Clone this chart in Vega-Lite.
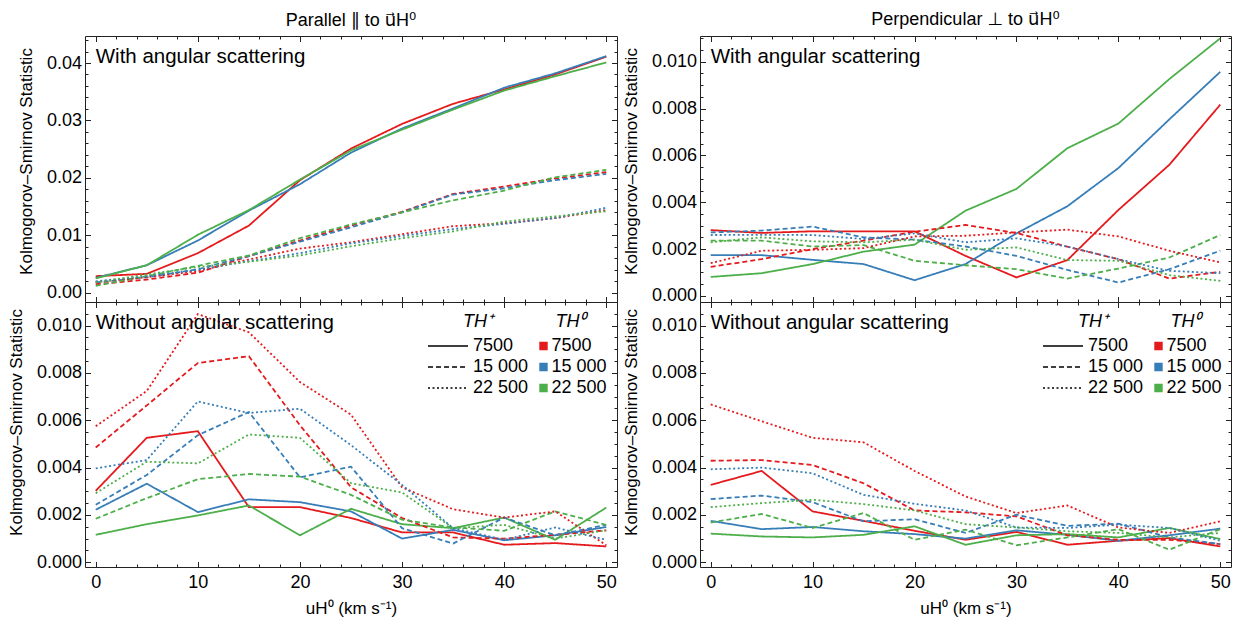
{
"$schema":"https://vega.github.io/schema/vega-lite/v6.json",
"padding":{"left":6,"top":10,"right":5,"bottom":5},
"background":"white",
"config":{
 "font":"Liberation Sans",
 "view":{"stroke":"#222","strokeWidth":1},
 "axis":{"domain":false,"grid":false,"minExtent":0,"tickColor":"#222","tickWidth":1,"labelFont":"Liberation Sans","labelFontSize":18,"labelColor":"black","titleFont":"Liberation Sans","titleFontSize":17,"titleFontWeight":"normal","titleColor":"black","labelFlush":false,"labelOverlap":false},
 "legend":{"labelFont":"Liberation Sans","labelFontSize":18,"labelColor":"black","titleFont":"Liberation Sans","titleFontSize":18,"titleFontWeight":"normal","titleColor":"black"}
},
"datasets":{
"TL":[
{"a":7500,"b":7500,"u":0,"k":0.0029},{"a":7500,"b":7500,"u":5,"k":0.0033},{"a":7500,"b":7500,"u":10,"k":0.0069},{"a":7500,"b":7500,"u":15,"k":0.0117},{"a":7500,"b":7500,"u":20,"k":0.0196},{"a":7500,"b":7500,"u":25,"k":0.0251},{"a":7500,"b":7500,"u":30,"k":0.0294},{"a":7500,"b":7500,"u":35,"k":0.0329},{"a":7500,"b":7500,"u":40,"k":0.0354},{"a":7500,"b":7500,"u":45,"k":0.0380},{"a":7500,"b":7500,"u":50,"k":0.0411},
{"a":7500,"b":15000,"u":0,"k":0.0026},{"a":7500,"b":15000,"u":5,"k":0.0048},{"a":7500,"b":15000,"u":10,"k":0.0091},{"a":7500,"b":15000,"u":15,"k":0.0143},{"a":7500,"b":15000,"u":20,"k":0.0189},{"a":7500,"b":15000,"u":25,"k":0.0244},{"a":7500,"b":15000,"u":30,"k":0.0286},{"a":7500,"b":15000,"u":35,"k":0.0321},{"a":7500,"b":15000,"u":40,"k":0.0357},{"a":7500,"b":15000,"u":45,"k":0.0382},{"a":7500,"b":15000,"u":50,"k":0.0412},
{"a":7500,"b":22500,"u":0,"k":0.0025},{"a":7500,"b":22500,"u":5,"k":0.0048},{"a":7500,"b":22500,"u":10,"k":0.0101},{"a":7500,"b":22500,"u":15,"k":0.0144},{"a":7500,"b":22500,"u":20,"k":0.0197},{"a":7500,"b":22500,"u":25,"k":0.0248},{"a":7500,"b":22500,"u":30,"k":0.0284},{"a":7500,"b":22500,"u":35,"k":0.0319},{"a":7500,"b":22500,"u":40,"k":0.0352},{"a":7500,"b":22500,"u":45,"k":0.0377},{"a":7500,"b":22500,"u":50,"k":0.0401},
{"a":15000,"b":7500,"u":0,"k":0.0015},{"a":15000,"b":7500,"u":5,"k":0.0023},{"a":15000,"b":7500,"u":10,"k":0.0035},{"a":15000,"b":7500,"u":15,"k":0.0064},{"a":15000,"b":7500,"u":20,"k":0.0091},{"a":15000,"b":7500,"u":25,"k":0.0117},{"a":15000,"b":7500,"u":30,"k":0.0141},{"a":15000,"b":7500,"u":35,"k":0.0172},{"a":15000,"b":7500,"u":40,"k":0.0185},{"a":15000,"b":7500,"u":45,"k":0.0199},{"a":15000,"b":7500,"u":50,"k":0.0210},
{"a":15000,"b":15000,"u":0,"k":0.0018},{"a":15000,"b":15000,"u":5,"k":0.0027},{"a":15000,"b":15000,"u":10,"k":0.0041},{"a":15000,"b":15000,"u":15,"k":0.0064},{"a":15000,"b":15000,"u":20,"k":0.0089},{"a":15000,"b":15000,"u":25,"k":0.0114},{"a":15000,"b":15000,"u":30,"k":0.0140},{"a":15000,"b":15000,"u":35,"k":0.0171},{"a":15000,"b":15000,"u":40,"k":0.0182},{"a":15000,"b":15000,"u":45,"k":0.0196},{"a":15000,"b":15000,"u":50,"k":0.0207},
{"a":15000,"b":22500,"u":0,"k":0.0012},{"a":15000,"b":22500,"u":5,"k":0.0029},{"a":15000,"b":22500,"u":10,"k":0.0047},{"a":15000,"b":22500,"u":15,"k":0.0065},{"a":15000,"b":22500,"u":20,"k":0.0095},{"a":15000,"b":22500,"u":25,"k":0.0119},{"a":15000,"b":22500,"u":30,"k":0.0140},{"a":15000,"b":22500,"u":35,"k":0.0161},{"a":15000,"b":22500,"u":40,"k":0.0178},{"a":15000,"b":22500,"u":45,"k":0.0201},{"a":15000,"b":22500,"u":50,"k":0.0214},
{"a":22500,"b":7500,"u":0,"k":0.0019},{"a":22500,"b":7500,"u":5,"k":0.0027},{"a":22500,"b":7500,"u":10,"k":0.0038},{"a":22500,"b":7500,"u":15,"k":0.0058},{"a":22500,"b":7500,"u":20,"k":0.0077},{"a":22500,"b":7500,"u":25,"k":0.0088},{"a":22500,"b":7500,"u":30,"k":0.0102},{"a":22500,"b":7500,"u":35,"k":0.0116},{"a":22500,"b":7500,"u":40,"k":0.0121},{"a":22500,"b":7500,"u":45,"k":0.0130},{"a":22500,"b":7500,"u":50,"k":0.0144},
{"a":22500,"b":15000,"u":0,"k":0.0020},{"a":22500,"b":15000,"u":5,"k":0.0029},{"a":22500,"b":15000,"u":10,"k":0.0040},{"a":22500,"b":15000,"u":15,"k":0.0055},{"a":22500,"b":15000,"u":20,"k":0.0069},{"a":22500,"b":15000,"u":25,"k":0.0086},{"a":22500,"b":15000,"u":30,"k":0.0099},{"a":22500,"b":15000,"u":35,"k":0.0111},{"a":22500,"b":15000,"u":40,"k":0.0120},{"a":22500,"b":15000,"u":45,"k":0.0130},{"a":22500,"b":15000,"u":50,"k":0.0148},
{"a":22500,"b":22500,"u":0,"k":0.0018},{"a":22500,"b":22500,"u":5,"k":0.0032},{"a":22500,"b":22500,"u":10,"k":0.0045},{"a":22500,"b":22500,"u":15,"k":0.0054},{"a":22500,"b":22500,"u":20,"k":0.0065},{"a":22500,"b":22500,"u":25,"k":0.0081},{"a":22500,"b":22500,"u":30,"k":0.0095},{"a":22500,"b":22500,"u":35,"k":0.0107},{"a":22500,"b":22500,"u":40,"k":0.0124},{"a":22500,"b":22500,"u":45,"k":0.0133},{"a":22500,"b":22500,"u":50,"k":0.0142}
],
"BL":[
{"a":7500,"b":7500,"u":0,"k":0.00302},{"a":7500,"b":7500,"u":5,"k":0.00526},{"a":7500,"b":7500,"u":10,"k":0.00554},{"a":7500,"b":7500,"u":15,"k":0.00233},{"a":7500,"b":7500,"u":20,"k":0.00233},{"a":7500,"b":7500,"u":25,"k":0.00187},{"a":7500,"b":7500,"u":30,"k":0.00126},{"a":7500,"b":7500,"u":35,"k":0.00126},{"a":7500,"b":7500,"u":40,"k":0.00074},{"a":7500,"b":7500,"u":45,"k":0.00081},{"a":7500,"b":7500,"u":50,"k":0.00067},
{"a":7500,"b":15000,"u":0,"k":0.00222},{"a":7500,"b":15000,"u":5,"k":0.00332},{"a":7500,"b":15000,"u":10,"k":0.00212},{"a":7500,"b":15000,"u":15,"k":0.00266},{"a":7500,"b":15000,"u":20,"k":0.00254},{"a":7500,"b":15000,"u":25,"k":0.00215},{"a":7500,"b":15000,"u":30,"k":0.00100},{"a":7500,"b":15000,"u":35,"k":0.00137},{"a":7500,"b":15000,"u":40,"k":0.00093},{"a":7500,"b":15000,"u":45,"k":0.00114},{"a":7500,"b":15000,"u":50,"k":0.00149},
{"a":7500,"b":22500,"u":0,"k":0.00116},{"a":7500,"b":22500,"u":5,"k":0.00161},{"a":7500,"b":22500,"u":10,"k":0.00198},{"a":7500,"b":22500,"u":15,"k":0.00240},{"a":7500,"b":22500,"u":20,"k":0.00114},{"a":7500,"b":22500,"u":25,"k":0.00226},{"a":7500,"b":22500,"u":30,"k":0.00161},{"a":7500,"b":22500,"u":35,"k":0.00144},{"a":7500,"b":22500,"u":40,"k":0.00189},{"a":7500,"b":22500,"u":45,"k":0.00095},{"a":7500,"b":22500,"u":50,"k":0.00231},
{"a":15000,"b":7500,"u":0,"k":0.00485},{"a":15000,"b":7500,"u":5,"k":0.00663},{"a":15000,"b":7500,"u":10,"k":0.00842},{"a":15000,"b":7500,"u":15,"k":0.00871},{"a":15000,"b":7500,"u":20,"k":0.00579},{"a":15000,"b":7500,"u":25,"k":0.00317},{"a":15000,"b":7500,"u":30,"k":0.00187},{"a":15000,"b":7500,"u":35,"k":0.00105},{"a":15000,"b":7500,"u":40,"k":0.00100},{"a":15000,"b":7500,"u":45,"k":0.00116},{"a":15000,"b":7500,"u":50,"k":0.00135},
{"a":15000,"b":15000,"u":0,"k":0.00243},{"a":15000,"b":15000,"u":5,"k":0.00369},{"a":15000,"b":15000,"u":10,"k":0.00537},{"a":15000,"b":15000,"u":15,"k":0.00635},{"a":15000,"b":15000,"u":20,"k":0.00359},{"a":15000,"b":15000,"u":25,"k":0.00404},{"a":15000,"b":15000,"u":30,"k":0.00144},{"a":15000,"b":15000,"u":35,"k":0.00079},{"a":15000,"b":15000,"u":40,"k":0.00189},{"a":15000,"b":15000,"u":45,"k":0.00114},{"a":15000,"b":15000,"u":50,"k":0.00158},
{"a":15000,"b":22500,"u":0,"k":0.00184},{"a":15000,"b":22500,"u":5,"k":0.00271},{"a":15000,"b":22500,"u":10,"k":0.00351},{"a":15000,"b":22500,"u":15,"k":0.00373},{"a":15000,"b":22500,"u":20,"k":0.00362},{"a":15000,"b":22500,"u":25,"k":0.00285},{"a":15000,"b":22500,"u":30,"k":0.00180},{"a":15000,"b":22500,"u":35,"k":0.00147},{"a":15000,"b":22500,"u":40,"k":0.00133},{"a":15000,"b":22500,"u":45,"k":0.00215},{"a":15000,"b":22500,"u":50,"k":0.00158},
{"a":22500,"b":7500,"u":0,"k":0.00575},{"a":22500,"b":7500,"u":5,"k":0.00724},{"a":22500,"b":7500,"u":10,"k":0.01049},{"a":22500,"b":7500,"u":15,"k":0.00972},{"a":22500,"b":7500,"u":20,"k":0.00762},{"a":22500,"b":7500,"u":25,"k":0.00624},{"a":22500,"b":7500,"u":30,"k":0.00317},{"a":22500,"b":7500,"u":35,"k":0.00224},{"a":22500,"b":7500,"u":40,"k":0.00189},{"a":22500,"b":7500,"u":45,"k":0.00215},{"a":22500,"b":7500,"u":50,"k":0.00072},
{"a":22500,"b":15000,"u":0,"k":0.00397},{"a":22500,"b":15000,"u":5,"k":0.00432},{"a":22500,"b":15000,"u":10,"k":0.00680},{"a":22500,"b":15000,"u":15,"k":0.00631},{"a":22500,"b":15000,"u":20,"k":0.00649},{"a":22500,"b":15000,"u":25,"k":0.00495},{"a":22500,"b":15000,"u":30,"k":0.00327},{"a":22500,"b":15000,"u":35,"k":0.00144},{"a":22500,"b":15000,"u":40,"k":0.00095},{"a":22500,"b":15000,"u":45,"k":0.00147},{"a":22500,"b":15000,"u":50,"k":0.00095},
{"a":22500,"b":22500,"u":0,"k":0.00292},{"a":22500,"b":22500,"u":5,"k":0.00425},{"a":22500,"b":22500,"u":10,"k":0.00418},{"a":22500,"b":22500,"u":15,"k":0.00540},{"a":22500,"b":22500,"u":20,"k":0.00526},{"a":22500,"b":22500,"u":25,"k":0.00334},{"a":22500,"b":22500,"u":30,"k":0.00295},{"a":22500,"b":22500,"u":35,"k":0.00144},{"a":22500,"b":22500,"u":40,"k":0.00158},{"a":22500,"b":22500,"u":45,"k":0.00100},{"a":22500,"b":22500,"u":50,"k":0.00135}
],
"TR":[
{"a":7500,"b":7500,"u":0,"k":0.00281},{"a":7500,"b":7500,"u":5,"k":0.00269},{"a":7500,"b":7500,"u":10,"k":0.00276},{"a":7500,"b":7500,"u":15,"k":0.00276},{"a":7500,"b":7500,"u":20,"k":0.00276},{"a":7500,"b":7500,"u":25,"k":0.00171},{"a":7500,"b":7500,"u":30,"k":0.00079},{"a":7500,"b":7500,"u":35,"k":0.00153},{"a":7500,"b":7500,"u":40,"k":0.00367},{"a":7500,"b":7500,"u":45,"k":0.00560},{"a":7500,"b":7500,"u":50,"k":0.00817},
{"a":7500,"b":15000,"u":0,"k":0.00174},{"a":7500,"b":15000,"u":5,"k":0.00174},{"a":7500,"b":15000,"u":10,"k":0.00154},{"a":7500,"b":15000,"u":15,"k":0.00136},{"a":7500,"b":15000,"u":20,"k":0.00067},{"a":7500,"b":15000,"u":25,"k":0.00136},{"a":7500,"b":15000,"u":30,"k":0.00267},{"a":7500,"b":15000,"u":35,"k":0.00383},{"a":7500,"b":15000,"u":40,"k":0.00546},{"a":7500,"b":15000,"u":45,"k":0.00754},{"a":7500,"b":15000,"u":50,"k":0.00957},
{"a":7500,"b":22500,"u":0,"k":0.00081},{"a":7500,"b":22500,"u":5,"k":0.00097},{"a":7500,"b":22500,"u":10,"k":0.00136},{"a":7500,"b":22500,"u":15,"k":0.00189},{"a":7500,"b":22500,"u":20,"k":0.00219},{"a":7500,"b":22500,"u":25,"k":0.00364},{"a":7500,"b":22500,"u":30,"k":0.00457},{"a":7500,"b":22500,"u":35,"k":0.00631},{"a":7500,"b":22500,"u":40,"k":0.00736},{"a":7500,"b":22500,"u":45,"k":0.00926},{"a":7500,"b":22500,"u":50,"k":0.01100},
{"a":15000,"b":7500,"u":0,"k":0.00124},{"a":15000,"b":7500,"u":5,"k":0.00157},{"a":15000,"b":7500,"u":10,"k":0.00200},{"a":15000,"b":7500,"u":15,"k":0.00236},{"a":15000,"b":7500,"u":20,"k":0.00274},{"a":15000,"b":7500,"u":25,"k":0.00303},{"a":15000,"b":7500,"u":30,"k":0.00269},{"a":15000,"b":7500,"u":35,"k":0.00210},{"a":15000,"b":7500,"u":40,"k":0.00157},{"a":15000,"b":7500,"u":45,"k":0.00074},{"a":15000,"b":7500,"u":50,"k":0.00103},
{"a":15000,"b":15000,"u":0,"k":0.00271},{"a":15000,"b":15000,"u":5,"k":0.00279},{"a":15000,"b":15000,"u":10,"k":0.00296},{"a":15000,"b":15000,"u":15,"k":0.00250},{"a":15000,"b":15000,"u":20,"k":0.00240},{"a":15000,"b":15000,"u":25,"k":0.00211},{"a":15000,"b":15000,"u":30,"k":0.00171},{"a":15000,"b":15000,"u":35,"k":0.00111},{"a":15000,"b":15000,"u":40,"k":0.00057},{"a":15000,"b":15000,"u":45,"k":0.00114},{"a":15000,"b":15000,"u":50,"k":0.00193},
{"a":15000,"b":22500,"u":0,"k":0.00236},{"a":15000,"b":22500,"u":5,"k":0.00236},{"a":15000,"b":22500,"u":10,"k":0.00211},{"a":15000,"b":22500,"u":15,"k":0.00217},{"a":15000,"b":22500,"u":20,"k":0.00150},{"a":15000,"b":22500,"u":25,"k":0.00131},{"a":15000,"b":22500,"u":30,"k":0.00114},{"a":15000,"b":22500,"u":35,"k":0.00074},{"a":15000,"b":22500,"u":40,"k":0.00117},{"a":15000,"b":22500,"u":45,"k":0.00164},{"a":15000,"b":22500,"u":50,"k":0.00260},
{"a":22500,"b":7500,"u":0,"k":0.00140},{"a":22500,"b":7500,"u":5,"k":0.00193},{"a":22500,"b":7500,"u":10,"k":0.00197},{"a":22500,"b":7500,"u":15,"k":0.00204},{"a":22500,"b":7500,"u":20,"k":0.00254},{"a":22500,"b":7500,"u":25,"k":0.00257},{"a":22500,"b":7500,"u":30,"k":0.00271},{"a":22500,"b":7500,"u":35,"k":0.00283},{"a":22500,"b":7500,"u":40,"k":0.00254},{"a":22500,"b":7500,"u":45,"k":0.00193},{"a":22500,"b":7500,"u":50,"k":0.00143},
{"a":22500,"b":15000,"u":0,"k":0.00260},{"a":22500,"b":15000,"u":5,"k":0.00261},{"a":22500,"b":15000,"u":10,"k":0.00260},{"a":22500,"b":15000,"u":15,"k":0.00243},{"a":22500,"b":15000,"u":20,"k":0.00267},{"a":22500,"b":15000,"u":25,"k":0.00229},{"a":22500,"b":15000,"u":30,"k":0.00246},{"a":22500,"b":15000,"u":35,"k":0.00211},{"a":22500,"b":15000,"u":40,"k":0.00157},{"a":22500,"b":15000,"u":45,"k":0.00107},{"a":22500,"b":15000,"u":50,"k":0.00097},
{"a":22500,"b":22500,"u":0,"k":0.00229},{"a":22500,"b":22500,"u":5,"k":0.00250},{"a":22500,"b":22500,"u":10,"k":0.00233},{"a":22500,"b":22500,"u":15,"k":0.00229},{"a":22500,"b":22500,"u":20,"k":0.00240},{"a":22500,"b":22500,"u":25,"k":0.00197},{"a":22500,"b":22500,"u":30,"k":0.00207},{"a":22500,"b":22500,"u":35,"k":0.00153},{"a":22500,"b":22500,"u":40,"k":0.00150},{"a":22500,"b":22500,"u":45,"k":0.00089},{"a":22500,"b":22500,"u":50,"k":0.00064}
],
"BR":[
{"a":7500,"b":7500,"u":0,"k":0.00327},{"a":7500,"b":7500,"u":5,"k":0.00386},{"a":7500,"b":7500,"u":10,"k":0.00215},{"a":7500,"b":7500,"u":15,"k":0.00175},{"a":7500,"b":7500,"u":20,"k":0.00133},{"a":7500,"b":7500,"u":25,"k":0.00095},{"a":7500,"b":7500,"u":30,"k":0.00128},{"a":7500,"b":7500,"u":35,"k":0.00074},{"a":7500,"b":7500,"u":40,"k":0.00091},{"a":7500,"b":7500,"u":45,"k":0.00102},{"a":7500,"b":7500,"u":50,"k":0.00067},
{"a":7500,"b":15000,"u":0,"k":0.00175},{"a":7500,"b":15000,"u":5,"k":0.00140},{"a":7500,"b":15000,"u":10,"k":0.00149},{"a":7500,"b":15000,"u":15,"k":0.00131},{"a":7500,"b":15000,"u":20,"k":0.00119},{"a":7500,"b":15000,"u":25,"k":0.00100},{"a":7500,"b":15000,"u":30,"k":0.00135},{"a":7500,"b":15000,"u":35,"k":0.00116},{"a":7500,"b":15000,"u":40,"k":0.00091},{"a":7500,"b":15000,"u":45,"k":0.00114},{"a":7500,"b":15000,"u":50,"k":0.00142},
{"a":7500,"b":22500,"u":0,"k":0.00121},{"a":7500,"b":22500,"u":5,"k":0.00109},{"a":7500,"b":22500,"u":10,"k":0.00105},{"a":7500,"b":22500,"u":15,"k":0.00116},{"a":7500,"b":22500,"u":20,"k":0.00152},{"a":7500,"b":22500,"u":25,"k":0.00074},{"a":7500,"b":22500,"u":30,"k":0.00114},{"a":7500,"b":22500,"u":35,"k":0.00119},{"a":7500,"b":22500,"u":40,"k":0.00105},{"a":7500,"b":22500,"u":45,"k":0.00145},{"a":7500,"b":22500,"u":50,"k":0.00098},
{"a":15000,"b":7500,"u":0,"k":0.00429},{"a":15000,"b":7500,"u":5,"k":0.00432},{"a":15000,"b":7500,"u":10,"k":0.00411},{"a":15000,"b":7500,"u":15,"k":0.00334},{"a":15000,"b":7500,"u":20,"k":0.00219},{"a":15000,"b":7500,"u":25,"k":0.00211},{"a":15000,"b":7500,"u":30,"k":0.00194},{"a":15000,"b":7500,"u":35,"k":0.00114},{"a":15000,"b":7500,"u":40,"k":0.00095},{"a":15000,"b":7500,"u":45,"k":0.00095},{"a":15000,"b":7500,"u":50,"k":0.00077},
{"a":15000,"b":15000,"u":0,"k":0.00267},{"a":15000,"b":15000,"u":5,"k":0.00282},{"a":15000,"b":15000,"u":10,"k":0.00254},{"a":15000,"b":15000,"u":15,"k":0.00173},{"a":15000,"b":15000,"u":20,"k":0.00182},{"a":15000,"b":15000,"u":25,"k":0.00124},{"a":15000,"b":15000,"u":30,"k":0.00201},{"a":15000,"b":15000,"u":35,"k":0.00154},{"a":15000,"b":15000,"u":40,"k":0.00163},{"a":15000,"b":15000,"u":45,"k":0.00105},{"a":15000,"b":15000,"u":50,"k":0.00077},
{"a":15000,"b":22500,"u":0,"k":0.00168},{"a":15000,"b":22500,"u":5,"k":0.00204},{"a":15000,"b":22500,"u":10,"k":0.00145},{"a":15000,"b":22500,"u":15,"k":0.00208},{"a":15000,"b":22500,"u":20,"k":0.00095},{"a":15000,"b":22500,"u":25,"k":0.00138},{"a":15000,"b":22500,"u":30,"k":0.00072},{"a":15000,"b":22500,"u":35,"k":0.00105},{"a":15000,"b":22500,"u":40,"k":0.00140},{"a":15000,"b":22500,"u":45,"k":0.00053},{"a":15000,"b":22500,"u":50,"k":0.00140},
{"a":22500,"b":7500,"u":0,"k":0.00667},{"a":22500,"b":7500,"u":5,"k":0.00596},{"a":22500,"b":7500,"u":10,"k":0.00526},{"a":22500,"b":7500,"u":15,"k":0.00507},{"a":22500,"b":7500,"u":20,"k":0.00386},{"a":22500,"b":7500,"u":25,"k":0.00278},{"a":22500,"b":7500,"u":30,"k":0.00208},{"a":22500,"b":7500,"u":35,"k":0.00240},{"a":22500,"b":7500,"u":40,"k":0.00147},{"a":22500,"b":7500,"u":45,"k":0.00124},{"a":22500,"b":7500,"u":50,"k":0.00173},
{"a":22500,"b":15000,"u":0,"k":0.00393},{"a":22500,"b":15000,"u":5,"k":0.00400},{"a":22500,"b":15000,"u":10,"k":0.00376},{"a":22500,"b":15000,"u":15,"k":0.00285},{"a":22500,"b":15000,"u":20,"k":0.00247},{"a":22500,"b":15000,"u":25,"k":0.00219},{"a":22500,"b":15000,"u":30,"k":0.00147},{"a":22500,"b":15000,"u":35,"k":0.00145},{"a":22500,"b":15000,"u":40,"k":0.00159},{"a":22500,"b":15000,"u":45,"k":0.00145},{"a":22500,"b":15000,"u":50,"k":0.00091},
{"a":22500,"b":22500,"u":0,"k":0.00233},{"a":22500,"b":22500,"u":5,"k":0.00250},{"a":22500,"b":22500,"u":10,"k":0.00264},{"a":22500,"b":22500,"u":15,"k":0.00246},{"a":22500,"b":22500,"u":20,"k":0.00219},{"a":22500,"b":22500,"u":25,"k":0.00161},{"a":22500,"b":22500,"u":30,"k":0.00147},{"a":22500,"b":22500,"u":35,"k":0.00131},{"a":22500,"b":22500,"u":40,"k":0.00124},{"a":22500,"b":22500,"u":45,"k":0.00105},{"a":22500,"b":22500,"u":50,"k":0.00124}
]
},
"resolve":{"legend":{"color":"independent","strokeDash":"independent"}},
"columns":2,
"spacing":{"row":0,"column":83},
"bounds":"flush",
"concat":[
  {
   "data":{"name":"TL"},"width":532,"height":266,
   "title":{"text":"Parallel ∥ to u⃗H⁰","frame":"group","anchor":"middle","offset":-8,"baseline":"alphabetic","fontSize":18,"fontWeight":"normal","font":"Liberation Sans, DejaVu Sans","color":"black"},
   "layer":[
    {"mark":{"type":"line","strokeWidth":1.8,"color":"black"},
     "encoding":{
      "x":{"field":"u","type":"quantitative","scale":{"domain":[-1.05,51.05],"nice":false,"zero":false},"axis":{"orient":"bottom","values":[0,10,20,30,40,50],"tickSize":-5.5,"labels":false,"title":null}},
      "y":{"field":"k","type":"quantitative","scale":{"domain":[-0.0016,0.0447],"nice":false,"zero":false},"axis":{"orient":"left","values":[0,0.01,0.02,0.03,0.04],"format":".2f","tickSize":-5.5,"labelPadding":9,"title":"Kolmogorov–Smirnov Statistic","titlePadding":11,"titleY":125}},
      "color":{"field":"b","type":"nominal","scale":{"range":["#e41a1c","#377eb8","#4daf4a"]},"legend":null},
      "strokeDash":{"field":"a","type":"nominal","scale":{"domain":[7500,15000,22500],"range":[[1,0],[5,3],[2,2.5]]},"legend":null}
     }},
    {"mark":{"type":"point","opacity":0},
     "encoding":{
      "x":{"field":"u","type":"quantitative","scale":{"domain":[-1.05,51.05],"nice":false,"zero":false},"axis":{"orient":"bottom","values":[0,2,4,6,8,10,12,14,16,18,20,22,24,26,28,30,32,34,36,38,40,42,44,46,48,50],"tickSize":-3,"labels":false,"title":null}},
      "y":{"field":"k","type":"quantitative","scale":{"domain":[-0.0016,0.0447],"nice":false,"zero":false},"axis":{"orient":"left","values":[0,0.002,0.004,0.006,0.008,0.01,0.012,0.014,0.016,0.018,0.02,0.022,0.024,0.026,0.028,0.03,0.032,0.034,0.036,0.038,0.04,0.042,0.044],"tickSize":-3,"labels":false,"title":null}}
     }},
    {"mark":{"type":"point","opacity":0},
     "encoding":{
      "x":{"field":"u","type":"quantitative","scale":{"domain":[-1.05,51.05],"nice":false,"zero":false},"axis":{"orient":"top","values":[0,10,20,30,40,50],"tickSize":-5.5,"labels":false,"title":null}},
      "y":{"field":"k","type":"quantitative","scale":{"domain":[-0.0016,0.0447],"nice":false,"zero":false},"axis":{"orient":"right","values":[0,0.01,0.02,0.03,0.04],"tickSize":-5.5,"labels":false,"title":null}}
     }},
    {"mark":{"type":"point","opacity":0},
     "encoding":{
      "x":{"field":"u","type":"quantitative","scale":{"domain":[-1.05,51.05],"nice":false,"zero":false},"axis":{"orient":"top","values":[0,2,4,6,8,10,12,14,16,18,20,22,24,26,28,30,32,34,36,38,40,42,44,46,48,50],"tickSize":-3,"labels":false,"title":null}},
      "y":{"field":"k","type":"quantitative","scale":{"domain":[-0.0016,0.0447],"nice":false,"zero":false},"axis":{"orient":"right","values":[0,0.002,0.004,0.006,0.008,0.01,0.012,0.014,0.016,0.018,0.02,0.022,0.024,0.026,0.028,0.03,0.032,0.034,0.036,0.038,0.04,0.042,0.044],"tickSize":-3,"labels":false,"title":null}}
     }},
    {"data":{"values":[{"label":"With angular scattering"}]},
     "mark":{"type":"text","align":"left","baseline":"alphabetic","fontSize":20.5,"font":"Liberation Sans","color":"black"},
     "encoding":{
      "text":{"field":"label"},
      "x":{"datum":0,"type":"quantitative","scale":{"domain":[-1.05,51.05],"nice":false,"zero":false},"axis":null},
      "y":{"datum":0.04,"type":"quantitative","scale":{"domain":[-0.0016,0.0447],"nice":false,"zero":false},"axis":null}
     }}
   ],
   "resolve":{"axis":{"x":"independent","y":"independent"}}
  },
  {
   "data":{"name":"TR"},"width":531,"height":266,
   "title":{"text":"Perpendicular ⊥ to u⃗H⁰","frame":"group","anchor":"middle","offset":-8,"baseline":"alphabetic","fontSize":18,"fontWeight":"normal","font":"Liberation Sans, DejaVu Sans","color":"black"},
   "layer":[
    {"mark":{"type":"line","strokeWidth":1.8,"color":"black"},
     "encoding":{
      "x":{"field":"u","type":"quantitative","scale":{"domain":[-1.05,51.05],"nice":false,"zero":false},"axis":{"orient":"bottom","values":[0,10,20,30,40,50],"tickSize":-5.5,"labels":false,"title":null}},
      "y":{"field":"k","type":"quantitative","scale":{"domain":[-0.00026,0.0111],"nice":false,"zero":false},"axis":{"orient":"left","values":[0,0.002,0.004,0.006,0.008,0.01],"format":".3f","tickSize":-5.5,"labelPadding":9,"title":"Kolmogorov–Smirnov Statistic","titlePadding":11,"titleY":125}},
      "color":{"field":"b","type":"nominal","scale":{"range":["#e41a1c","#377eb8","#4daf4a"]},"legend":null},
      "strokeDash":{"field":"a","type":"nominal","scale":{"domain":[7500,15000,22500],"range":[[1,0],[5,3],[2,2.5]]},"legend":null}
     }},
    {"mark":{"type":"point","opacity":0},
     "encoding":{
      "x":{"field":"u","type":"quantitative","scale":{"domain":[-1.05,51.05],"nice":false,"zero":false},"axis":{"orient":"bottom","values":[0,2,4,6,8,10,12,14,16,18,20,22,24,26,28,30,32,34,36,38,40,42,44,46,48,50],"tickSize":-3,"labels":false,"title":null}},
      "y":{"field":"k","type":"quantitative","scale":{"domain":[-0.00026,0.0111],"nice":false,"zero":false},"axis":{"orient":"left","values":[0,0.0005,0.001,0.0015,0.002,0.0025,0.003,0.0035,0.004,0.0045,0.005,0.0055,0.006,0.0065,0.007,0.0075,0.008,0.0085,0.009,0.0095,0.01,0.0105,0.011],"tickSize":-3,"labels":false,"title":null}}
     }},
    {"mark":{"type":"point","opacity":0},
     "encoding":{
      "x":{"field":"u","type":"quantitative","scale":{"domain":[-1.05,51.05],"nice":false,"zero":false},"axis":{"orient":"top","values":[0,10,20,30,40,50],"tickSize":-5.5,"labels":false,"title":null}},
      "y":{"field":"k","type":"quantitative","scale":{"domain":[-0.00026,0.0111],"nice":false,"zero":false},"axis":{"orient":"right","values":[0,0.002,0.004,0.006,0.008,0.01],"tickSize":-5.5,"labels":false,"title":null}}
     }},
    {"mark":{"type":"point","opacity":0},
     "encoding":{
      "x":{"field":"u","type":"quantitative","scale":{"domain":[-1.05,51.05],"nice":false,"zero":false},"axis":{"orient":"top","values":[0,2,4,6,8,10,12,14,16,18,20,22,24,26,28,30,32,34,36,38,40,42,44,46,48,50],"tickSize":-3,"labels":false,"title":null}},
      "y":{"field":"k","type":"quantitative","scale":{"domain":[-0.00026,0.0111],"nice":false,"zero":false},"axis":{"orient":"right","values":[0,0.0005,0.001,0.0015,0.002,0.0025,0.003,0.0035,0.004,0.0045,0.005,0.0055,0.006,0.0065,0.007,0.0075,0.008,0.0085,0.009,0.0095,0.01,0.0105,0.011],"tickSize":-3,"labels":false,"title":null}}
     }},
    {"data":{"values":[{"label":"With angular scattering"}]},
     "mark":{"type":"text","align":"left","baseline":"alphabetic","fontSize":20.5,"font":"Liberation Sans","color":"black"},
     "encoding":{
      "text":{"field":"label"},
      "x":{"datum":0,"type":"quantitative","scale":{"domain":[-1.05,51.05],"nice":false,"zero":false},"axis":null},
      "y":{"datum":0.00995,"type":"quantitative","scale":{"domain":[-0.00026,0.0111],"nice":false,"zero":false},"axis":null}
     }}
   ],
   "resolve":{"axis":{"x":"independent","y":"independent"}}
  },
  {
   "data":{"name":"BL"},"width":532,"height":265,
   "layer":[
    {"mark":{"type":"line","strokeWidth":1.8,"color":"black"},
     "encoding":{
      "x":{"field":"u","type":"quantitative","scale":{"domain":[-1.05,51.05],"nice":false,"zero":false},"axis":{"orient":"bottom","values":[0,10,20,30,40,50],"format":"d","tickSize":-5.5,"labelPadding":12,"title":"uH⁰ (km s⁻¹)","titlePadding":9}},
      "y":{"field":"k","type":"quantitative","scale":{"domain":[-0.0002,0.011],"nice":false,"zero":false},"axis":{"orient":"left","values":[0,0.002,0.004,0.006,0.008,0.01],"format":".3f","tickSize":-5.5,"labelPadding":9,"title":"Kolmogorov–Smirnov Statistic","titlePadding":11,"titleY":120}},
      "color":{"field":"b","type":"nominal","scale":{"range":["#e41a1c","#377eb8","#4daf4a"]},"legend":{"orient":"none","legendX":449.5,"legendY":11,"title":"TH⁰","titleAnchor":"middle","titleFontStyle":"italic","titlePadding":5,"symbolType":"square","symbolSize":2,"symbolStrokeWidth":7,"clipHeight":20,"rowPadding":1,"labelOffset":-1,"labelExpr":"datum.value == 7500 ? '7500' : datum.value == 15000 ? '15 000' : '22 500'","encode":{"symbols":{"update":{"fill":{"scale":"color","field":"value"},"opacity":{"value":1}}}}}},
      "strokeDash":{"field":"a","type":"nominal","scale":{"domain":[7500,15000,22500],"range":[[1,0],[5,3],[2,2.5]]},"legend":{"orient":"none","legendX":342,"legendY":11,"title":"TH⁺","titleAnchor":"middle","titleFontStyle":"italic","titlePadding":5,"symbolType":"stroke","symbolSize":1600,"symbolStrokeWidth":1.6,"symbolStrokeColor":"black","clipHeight":20,"rowPadding":1,"labelOffset":4,"labelExpr":"datum.value == 7500 ? '7500' : datum.value == 15000 ? '15 000' : '22 500'"}}
     }},
    {"mark":{"type":"point","opacity":0},
     "encoding":{
      "x":{"field":"u","type":"quantitative","scale":{"domain":[-1.05,51.05],"nice":false,"zero":false},"axis":{"orient":"bottom","values":[0,2,4,6,8,10,12,14,16,18,20,22,24,26,28,30,32,34,36,38,40,42,44,46,48,50],"tickSize":-3,"labels":false,"title":null}},
      "y":{"field":"k","type":"quantitative","scale":{"domain":[-0.0002,0.011],"nice":false,"zero":false},"axis":{"orient":"left","values":[0,0.0005,0.001,0.0015,0.002,0.0025,0.003,0.0035,0.004,0.0045,0.005,0.0055,0.006,0.0065,0.007,0.0075,0.008,0.0085,0.009,0.0095,0.01,0.0105,0.011],"tickSize":-3,"labels":false,"title":null}}
     }},
    {"mark":{"type":"point","opacity":0},
     "encoding":{
      "x":{"field":"u","type":"quantitative","scale":{"domain":[-1.05,51.05],"nice":false,"zero":false},"axis":{"orient":"top","values":[0,10,20,30,40,50],"tickSize":-5.5,"labels":false,"title":null}},
      "y":{"field":"k","type":"quantitative","scale":{"domain":[-0.0002,0.011],"nice":false,"zero":false},"axis":{"orient":"right","values":[0,0.002,0.004,0.006,0.008,0.01],"tickSize":-5.5,"labels":false,"title":null}}
     }},
    {"mark":{"type":"point","opacity":0},
     "encoding":{
      "x":{"field":"u","type":"quantitative","scale":{"domain":[-1.05,51.05],"nice":false,"zero":false},"axis":{"orient":"top","values":[0,2,4,6,8,10,12,14,16,18,20,22,24,26,28,30,32,34,36,38,40,42,44,46,48,50],"tickSize":-3,"labels":false,"title":null}},
      "y":{"field":"k","type":"quantitative","scale":{"domain":[-0.0002,0.011],"nice":false,"zero":false},"axis":{"orient":"right","values":[0,0.0005,0.001,0.0015,0.002,0.0025,0.003,0.0035,0.004,0.0045,0.005,0.0055,0.006,0.0065,0.007,0.0075,0.008,0.0085,0.009,0.0095,0.01,0.0105,0.011],"tickSize":-3,"labels":false,"title":null}}
     }},
    {"data":{"values":[{"label":"Without angular scattering"}]},
     "mark":{"type":"text","align":"left","baseline":"alphabetic","fontSize":20.5,"font":"Liberation Sans","color":"black"},
     "encoding":{
      "text":{"field":"label"},
      "x":{"datum":0,"type":"quantitative","scale":{"domain":[-1.05,51.05],"nice":false,"zero":false},"axis":null},
      "y":{"datum":0.00987,"type":"quantitative","scale":{"domain":[-0.0002,0.011],"nice":false,"zero":false},"axis":null}
     }}
   ],
   "resolve":{"axis":{"x":"independent","y":"independent"}}
  },
  {
   "data":{"name":"BR"},"width":531,"height":265,
   "layer":[
    {"mark":{"type":"line","strokeWidth":1.8,"color":"black"},
     "encoding":{
      "x":{"field":"u","type":"quantitative","scale":{"domain":[-1.05,51.05],"nice":false,"zero":false},"axis":{"orient":"bottom","values":[0,10,20,30,40,50],"format":"d","tickSize":-5.5,"labelPadding":12,"title":"uH⁰ (km s⁻¹)","titlePadding":9}},
      "y":{"field":"k","type":"quantitative","scale":{"domain":[-0.0002,0.011],"nice":false,"zero":false},"axis":{"orient":"left","values":[0,0.002,0.004,0.006,0.008,0.01],"format":".3f","tickSize":-5.5,"labelPadding":9,"title":"Kolmogorov–Smirnov Statistic","titlePadding":11,"titleY":120}},
      "color":{"field":"b","type":"nominal","scale":{"range":["#e41a1c","#377eb8","#4daf4a"]},"legend":{"orient":"none","legendX":449.5,"legendY":11,"title":"TH⁰","titleAnchor":"middle","titleFontStyle":"italic","titlePadding":5,"symbolType":"square","symbolSize":2,"symbolStrokeWidth":7,"clipHeight":20,"rowPadding":1,"labelOffset":-1,"labelExpr":"datum.value == 7500 ? '7500' : datum.value == 15000 ? '15 000' : '22 500'","encode":{"symbols":{"update":{"fill":{"scale":"color","field":"value"},"opacity":{"value":1}}}}}},
      "strokeDash":{"field":"a","type":"nominal","scale":{"domain":[7500,15000,22500],"range":[[1,0],[5,3],[2,2.5]]},"legend":{"orient":"none","legendX":342,"legendY":11,"title":"TH⁺","titleAnchor":"middle","titleFontStyle":"italic","titlePadding":5,"symbolType":"stroke","symbolSize":1600,"symbolStrokeWidth":1.6,"symbolStrokeColor":"black","clipHeight":20,"rowPadding":1,"labelOffset":4,"labelExpr":"datum.value == 7500 ? '7500' : datum.value == 15000 ? '15 000' : '22 500'"}}
     }},
    {"mark":{"type":"point","opacity":0},
     "encoding":{
      "x":{"field":"u","type":"quantitative","scale":{"domain":[-1.05,51.05],"nice":false,"zero":false},"axis":{"orient":"bottom","values":[0,2,4,6,8,10,12,14,16,18,20,22,24,26,28,30,32,34,36,38,40,42,44,46,48,50],"tickSize":-3,"labels":false,"title":null}},
      "y":{"field":"k","type":"quantitative","scale":{"domain":[-0.0002,0.011],"nice":false,"zero":false},"axis":{"orient":"left","values":[0,0.0005,0.001,0.0015,0.002,0.0025,0.003,0.0035,0.004,0.0045,0.005,0.0055,0.006,0.0065,0.007,0.0075,0.008,0.0085,0.009,0.0095,0.01,0.0105,0.011],"tickSize":-3,"labels":false,"title":null}}
     }},
    {"mark":{"type":"point","opacity":0},
     "encoding":{
      "x":{"field":"u","type":"quantitative","scale":{"domain":[-1.05,51.05],"nice":false,"zero":false},"axis":{"orient":"top","values":[0,10,20,30,40,50],"tickSize":-5.5,"labels":false,"title":null}},
      "y":{"field":"k","type":"quantitative","scale":{"domain":[-0.0002,0.011],"nice":false,"zero":false},"axis":{"orient":"right","values":[0,0.002,0.004,0.006,0.008,0.01],"tickSize":-5.5,"labels":false,"title":null}}
     }},
    {"mark":{"type":"point","opacity":0},
     "encoding":{
      "x":{"field":"u","type":"quantitative","scale":{"domain":[-1.05,51.05],"nice":false,"zero":false},"axis":{"orient":"top","values":[0,2,4,6,8,10,12,14,16,18,20,22,24,26,28,30,32,34,36,38,40,42,44,46,48,50],"tickSize":-3,"labels":false,"title":null}},
      "y":{"field":"k","type":"quantitative","scale":{"domain":[-0.0002,0.011],"nice":false,"zero":false},"axis":{"orient":"right","values":[0,0.0005,0.001,0.0015,0.002,0.0025,0.003,0.0035,0.004,0.0045,0.005,0.0055,0.006,0.0065,0.007,0.0075,0.008,0.0085,0.009,0.0095,0.01,0.0105,0.011],"tickSize":-3,"labels":false,"title":null}}
     }},
    {"data":{"values":[{"label":"Without angular scattering"}]},
     "mark":{"type":"text","align":"left","baseline":"alphabetic","fontSize":20.5,"font":"Liberation Sans","color":"black"},
     "encoding":{
      "text":{"field":"label"},
      "x":{"datum":0,"type":"quantitative","scale":{"domain":[-1.05,51.05],"nice":false,"zero":false},"axis":null},
      "y":{"datum":0.00987,"type":"quantitative","scale":{"domain":[-0.0002,0.011],"nice":false,"zero":false},"axis":null}
     }}
   ],
   "resolve":{"axis":{"x":"independent","y":"independent"}}
  }
]
}
